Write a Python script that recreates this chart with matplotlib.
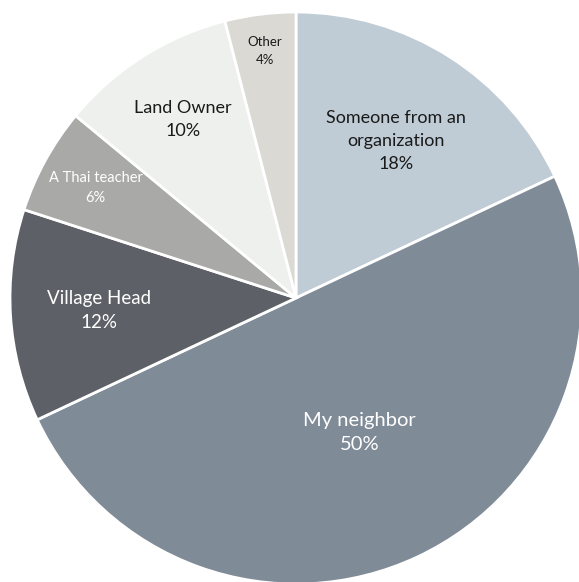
import matplotlib.pyplot as plt
import numpy as np

labels = ['Someone from an\norganization', 'My neighbor', 'Village Head',
          'A Thai teacher', 'Land Owner', 'Other']
values = [18, 50, 12, 6, 10, 4]
colors = ['#bfccd5', '#7f8b97', '#5d6066', '#a9a9a8', '#eef0ee', '#dbd9d4']
text_colors = ['#1a1a1a', 'white', 'white', 'white', '#1a1a1a', '#1a1a1a']
font_sizes = [13, 14.5, 13.5, 10.5, 13, 9.5]
label_r = [0.65, 0.52, 0.69, 0.80, 0.74, 0.87]

fig = plt.figure(figsize=(5.79, 5.82), dpi=100)
ax = fig.add_axes([0, 0, 1, 1])

cx, cy, R = 296, 284, 286
wedges, _ = ax.pie(values, colors=colors, startangle=90, counterclock=False,
                   center=(cx, cy), radius=R, frame=True,
                   wedgeprops=dict(edgecolor='white', linewidth=2))
ax.set_xlim(0, 579)
ax.set_ylim(0, 582)
ax.set_aspect('equal')
ax.axis('off')

for w, lab, v, tc, fs, r in zip(wedges, labels, values, text_colors, font_sizes, label_r):
    mid = np.deg2rad((w.theta1 + w.theta2) / 2)
    x = cx + r * R * np.cos(mid)
    y = cy + r * R * np.sin(mid)
    ax.text(x, y, f'{lab}\n{v}%', ha='center', va='center', color=tc,
            fontsize=fs, family='Lato', linespacing=1.55)

fig.savefig('out.png', dpi=100)
